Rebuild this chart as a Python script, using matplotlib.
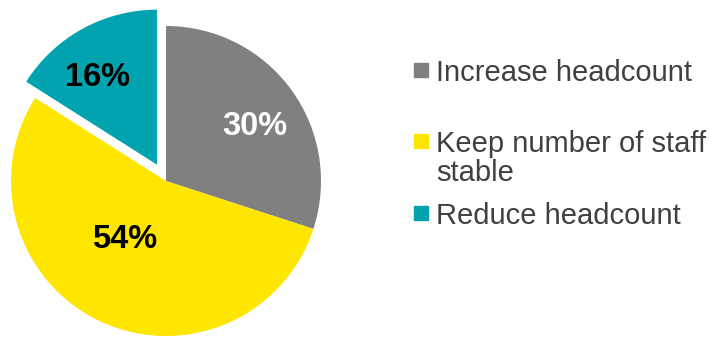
import numpy as np
import matplotlib.pyplot as plt
from matplotlib.patches import Rectangle

labels = ["Increase headcount", "Keep number of staff\nstable", "Reduce headcount"]
shares = [30, 54, 16]
colors = ["#808080", "#FFE600", "#00A3AE"]
pct_colors = ["white", "black", "black"]

plt.rcParams['font.family'] = ['Liberation Sans', 'DejaVu Sans']

fig = plt.figure(figsize=(7.11, 3.37), dpi=100)
W, H = 711, 337
# pie center (166, 181) from top-left, radius 155 px
cx, cy, r = 166, 181, 155
ax = fig.add_axes([(cx - r) / W, (H - cy - r) / H, 2 * r / W, 2 * r / H])

wedges, texts, autotexts = ax.pie(
    shares, colors=colors, startangle=90, counterclock=False,
    explode=[0, 0, 0.12], autopct='%d%%', pctdistance=0.68,
    textprops=dict(fontsize=23.5, fontweight='bold'))
for w in wedges:
    w.set_clip_on(False)
for t, c in zip(autotexts, pct_colors):
    t.set_color(c)
# label spots as in the original
label_pos = [(0.574, 0.35), (-0.27, -0.38), (-0.445, 0.67)]
for t, p in zip(autotexts, label_pos):
    t.set_position(p)

ax.set_xlim(-1, 1)
ax.set_ylim(-1, 1)
ax.set_aspect('equal')
ax.axis('off')

# legend drawn by hand, entries evenly spaced
ys = [70, 141, 213]
for lab, col, y in zip(labels, colors, ys):
    fig.patches.append(Rectangle(((414) / W, (H - y - 7) / H), 14 / W, 14 / H,
                                 transform=fig.transFigure, color=col))
    fig.text(436 / W, (H - y + 11) / H, lab, fontsize=21, color="#404040",
             va='top', linespacing=1.05)

fig.savefig("out.png", dpi=100)
